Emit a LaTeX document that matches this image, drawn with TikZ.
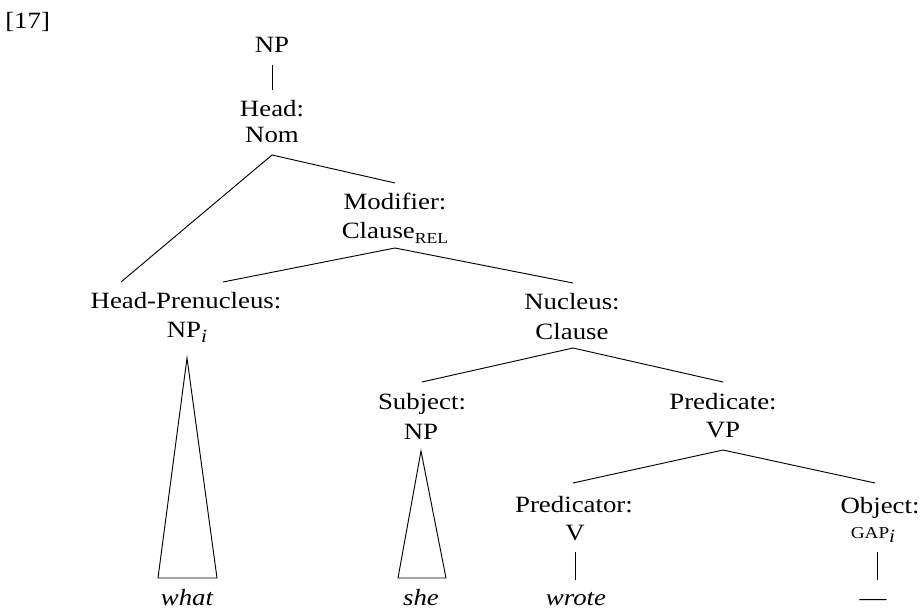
\documentclass[tikz,border=0pt]{standalone}
\usepackage{fontspec}
\setmainfont{Liberation Serif}[FakeStretch=1.15]
\usetikzlibrary{calc}
\newcommand{\smc}[1]{{\fontsize{12.5}{12.5}\selectfont #1}}
\newcommand{\subsc}[1]{\raisebox{-3.5pt}{\fontsize{11.5}{11.5}\selectfont #1}}
\newcommand{\subi}{\raisebox{-3.5pt}{\fontsize{14}{14}\selectfont\itshape i}}
\begin{document}
\begin{tikzpicture}[x=0.75pt,y=-0.75pt,
  lab/.style={anchor=base,inner sep=0pt,font=\fontsize{17.5}{20}\selectfont},
  br/.style={line width=0.7pt,black}]
\useasboundingbox (0,0) rectangle (921,609);
% labels
\node[lab,anchor=base west] (ex) at (5,29) {[17]};
\node[lab] (np) at (272,53) {NP};
\node[lab] (head) at (272,117) {Head:};
\node[lab] (nom) at (272,143) {Nom};
\node[lab] (mod) at (395,210) {Modifier:};
\node[lab] (crel) at (395,239) {Clause\subsc{REL}};
\node[lab] (hp) at (186,309) {Head-Prenucleus:};
\node[lab] (npi) at (187,338) {NP\subi};
\node[lab] (nuc) at (572,310) {Nucleus:};
\node[lab] (cl) at (572,340) {Clause};
\node[lab] (subj) at (422,410) {Subject:};
\node[lab] (snp) at (421,440) {NP};
\node[lab] (pred) at (723,410) {Predicate:};
\node[lab] (vp) at (723,438) {VP};
\node[lab] (prdr) at (574,512) {Predicator:};
\node[lab] (v) at (575,540) {V};
\node[lab] (obj) at (880,513) {Object:};
\node[lab] (gap) at (873,538) {\smc{GAP}\subi};
\node[lab] (what) at (187,605) {\itshape what};
\node[lab] (she) at (421,605) {\itshape she};
\node[lab] (wrote) at (576,605) {\itshape wrote};
\node[lab] (dash) at (873,605) {—};
% connectors
\draw[br] ($(np.base)+(0,12)$) -- ($(head.base)+(0,-27)$);
\draw[br] ($(nom.base)+(0,12)$) -- ($(hp.base)+(-65,-27)$);
\draw[br] ($(nom.base)+(0,12)$) -- ($(mod.base)+(0,-27)$);
\draw[br] ($(crel.base)+(0,9)$) -- ($(hp.base)+(37,-27)$);
\draw[br] ($(crel.base)+(0,9)$) -- ($(nuc.base)+(1,-27)$);
\draw[br] ($(cl.base)+(1,8)$) -- ($(subj.base)+(0,-28)$);
\draw[br] ($(cl.base)+(1,8)$) -- ($(pred.base)+(0,-28)$);
\draw[br] ($(vp.base)+(0,12)$) -- ($(prdr.base)+(-1,-29)$);
\draw[br] ($(vp.base)+(0,12)$) -- ($(obj.base)+(-5,-30)$);
\draw[br] ($(v.base)+(0,12)$) -- ($(wrote.base)+(-1,-25)$);
\draw[br] ($(gap.base)+(4,14)$) -- ($(dash.base)+(4,-25)$);
% triangles
\draw[br,line join=miter] ($(npi.base)+(0,20)$) -- ($(what.base)+(-29,-27)$) -- ($(what.base)+(30,-27)$) -- cycle;
\draw[br,line join=miter] ($(snp.base)+(0,11)$) -- ($(she.base)+(-23,-27)$) -- ($(she.base)+(25,-27)$) -- cycle;
\end{tikzpicture}
\end{document}
